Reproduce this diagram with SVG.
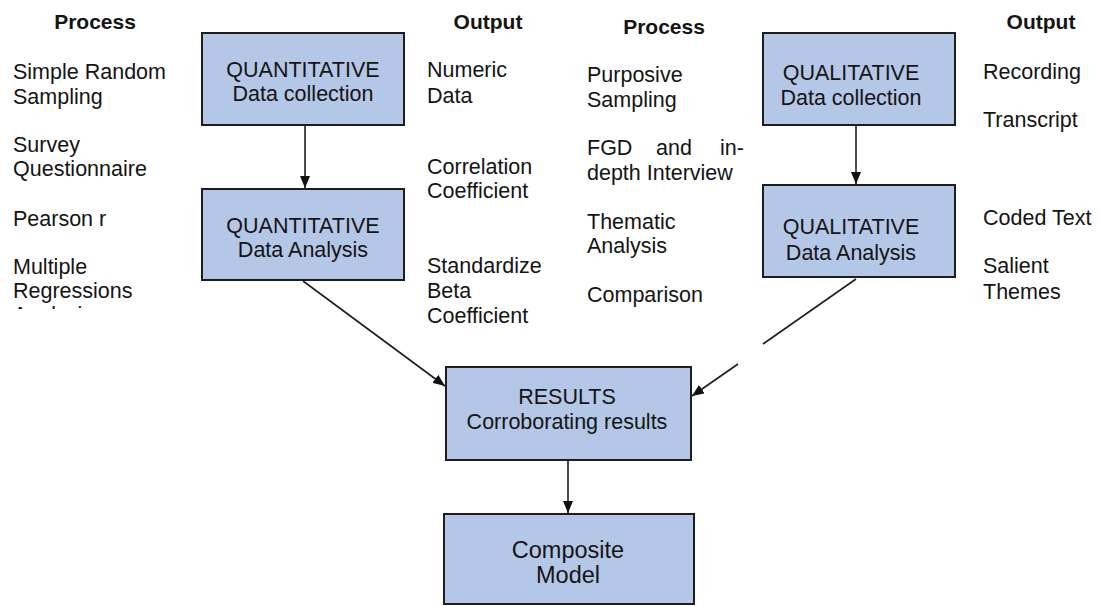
<svg xmlns="http://www.w3.org/2000/svg" width="1099" height="606" viewBox="0 0 1099 606">
<defs>
<style>
.bg{fill:#ffffff}
.box{fill:#b4c7e7;stroke:#1e1e1e;stroke-width:2}
text{font-family:"Liberation Sans",Arial,sans-serif;font-size:21.5px;fill:#141414}
.h{font-weight:bold;font-size:21px}
.c{text-anchor:middle}
.big{font-size:23.5px}
.conn{stroke:#1e1e1e;stroke-width:1.6;fill:none}
</style>
<marker id="ah" viewBox="0 0 12 10" refX="12" refY="5" markerWidth="12" markerHeight="10" markerUnits="userSpaceOnUse" orient="auto">
<path d="M0,0 L12,5 L0,10 Z" fill="#111"/>
</marker>
<clipPath id="cut"><rect x="0" y="0" width="200" height="309"/></clipPath>
</defs>
<rect class="bg" x="0" y="0" width="1099" height="606"/>

<g id="labels-left">
<text class="h c" x="95" y="29">Process</text>
<text x="13" y="79">Simple Random</text>
<text x="13" y="104">Sampling</text>
<text x="13" y="152">Survey</text>
<text x="13" y="176">Questionnaire</text>
<text x="13" y="226">Pearson r</text>
<text x="13" y="274">Multiple</text>
<text x="13" y="298">Regressions</text>
<text x="13" y="322" clip-path="url(#cut)">Analysis</text>
</g>

<g id="labels-output-quant">
<text class="h c" x="488" y="29">Output</text>
<text x="427" y="77">Numeric</text>
<text x="427" y="103">Data</text>
<text x="427" y="174">Correlation</text>
<text x="427" y="198">Coefficient</text>
<text x="427" y="273">Standardize</text>
<text x="427" y="298">Beta</text>
<text x="427" y="323">Coefficient</text>
</g>

<g id="labels-process-qual">
<text class="h c" x="664" y="34">Process</text>
<text x="587" y="82">Purposive</text>
<text x="587" y="107">Sampling</text>
<text x="587" y="155">FGD</text>
<text x="674" y="155" class="c">and</text>
<text x="744" y="155" style="text-anchor:end">in-</text>
<text x="587" y="180">depth Interview</text>
<text x="587" y="229">Thematic</text>
<text x="587" y="253">Analysis</text>
<text x="587" y="302">Comparison</text>
</g>

<g id="labels-output-qual">
<text class="h c" x="1041" y="29">Output</text>
<text x="983" y="79">Recording</text>
<text x="983" y="127">Transcript</text>
<text x="983" y="225">Coded Text</text>
<text x="983" y="273">Salient</text>
<text x="983" y="299">Themes</text>
</g>

<g id="quant-collection">
<rect class="box" x="202" y="33" width="202" height="92"/>
<text class="c" x="303" y="77">QUANTITATIVE</text>
<text class="c" x="303" y="101">Data collection</text>
</g>

<g id="quant-analysis">
<rect class="box" x="202" y="189" width="202" height="91"/>
<text class="c" x="303" y="233">QUANTITATIVE</text>
<text class="c" x="303" y="257">Data Analysis</text>
</g>

<g id="qual-collection">
<rect class="box" x="763" y="33" width="192" height="92"/>
<text class="c" x="851" y="80">QUALITATIVE</text>
<text class="c" x="851" y="105">Data collection</text>
</g>

<g id="qual-analysis">
<rect class="box" x="763" y="185" width="192" height="92"/>
<text class="c" x="851" y="234">QUALITATIVE</text>
<text class="c" x="851" y="260">Data Analysis</text>
</g>

<g id="results">
<rect class="box" x="446" y="367" width="245" height="93"/>
<text class="c" x="567" y="404">RESULTS</text>
<text class="c" x="567" y="429">Corroborating results</text>
</g>

<g id="composite">
<rect class="box" x="444" y="514" width="250" height="90"/>
<text class="c big" x="568" y="558">Composite</text>
<text class="c big" x="568" y="583">Model</text>
</g>

<g id="connectors">
<line class="conn" x1="305" y1="126" x2="305" y2="188" marker-end="url(#ah)"/>
<line class="conn" x1="856" y1="126" x2="856" y2="184" marker-end="url(#ah)"/>
<line class="conn" x1="568" y1="461" x2="568" y2="513" marker-end="url(#ah)"/>
<line class="conn" x1="303" y1="281" x2="445" y2="386" marker-end="url(#ah)"/>
<line class="conn" x1="856" y1="279" x2="763" y2="344"/>
<line class="conn" x1="738" y1="364" x2="692" y2="396" marker-end="url(#ah)"/>
</g>
</svg>
